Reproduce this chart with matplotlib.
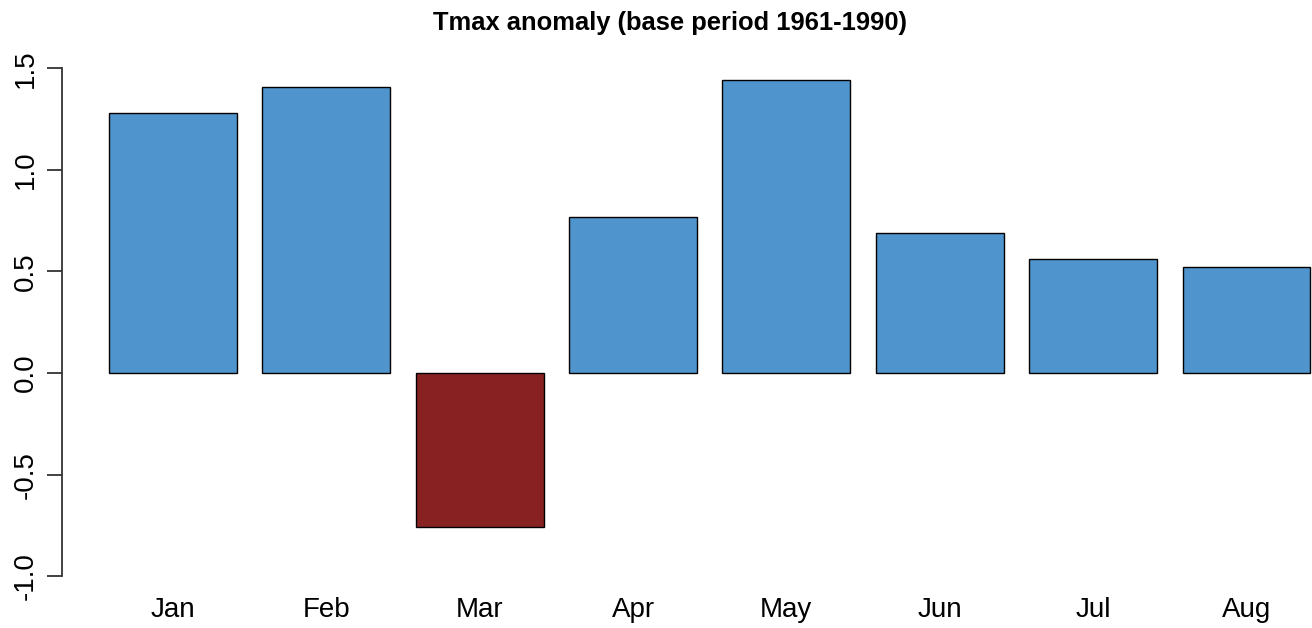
import matplotlib.pyplot as plt
import numpy as np

plt.rcParams['font.family'] = ['Liberation Sans', 'DejaVu Sans']

months = ["Jan", "Feb", "Mar", "Apr", "May", "Jun", "Jul", "Aug"]
anomaly = [1.28, 1.41, -0.76, 0.77, 1.44, 0.69, 0.56, 0.52]
yticks = [-1.0, -0.5, 0.0, 0.5, 1.0, 1.5]

# barplot-style positions: width 1, gap 0.2
x = 0.7 + 1.2 * np.arange(len(months))
colors = ["#4F94CD" if v >= 0 else "#882222" for v in anomaly]

fig = plt.figure(figsize=(13.12, 6.28), dpi=100)
ax = fig.add_axes([62 / 1312, 38 / 628, 1250 / 1312, 590 / 628])

ax.bar(x, anomaly, width=1.0, color=colors, edgecolor="black", linewidth=1.0)

ax.set_xlim(-0.168, 9.613)
ax.set_ylim(-1.068, 1.836)

for s in ["top", "right", "bottom"]:
    ax.spines[s].set_visible(False)
ax.spines["left"].set_bounds(-1.0, 1.5)
ax.spines["left"].set_linewidth(1.3)
ax.spines["left"].set_color("#333333")

ax.set_yticks(yticks)
ax.set_yticklabels(["%.1f" % v for v in yticks], rotation=90, va="center",
                   fontsize=20)
ax.tick_params(axis="y", length=11, width=1.3, color="#333333", pad=6)

ax.set_xticks(x)
ax.set_xticklabels(months, fontsize=20)
ax.tick_params(axis="x", length=0, pad=5)

fig.text(670 / 1312, 1 - 23 / 628, "Tmax anomaly (base period 1961-1990)",
         ha="center", va="center", fontsize=18.4, fontweight="bold")

fig.savefig("out.png", dpi=100)
